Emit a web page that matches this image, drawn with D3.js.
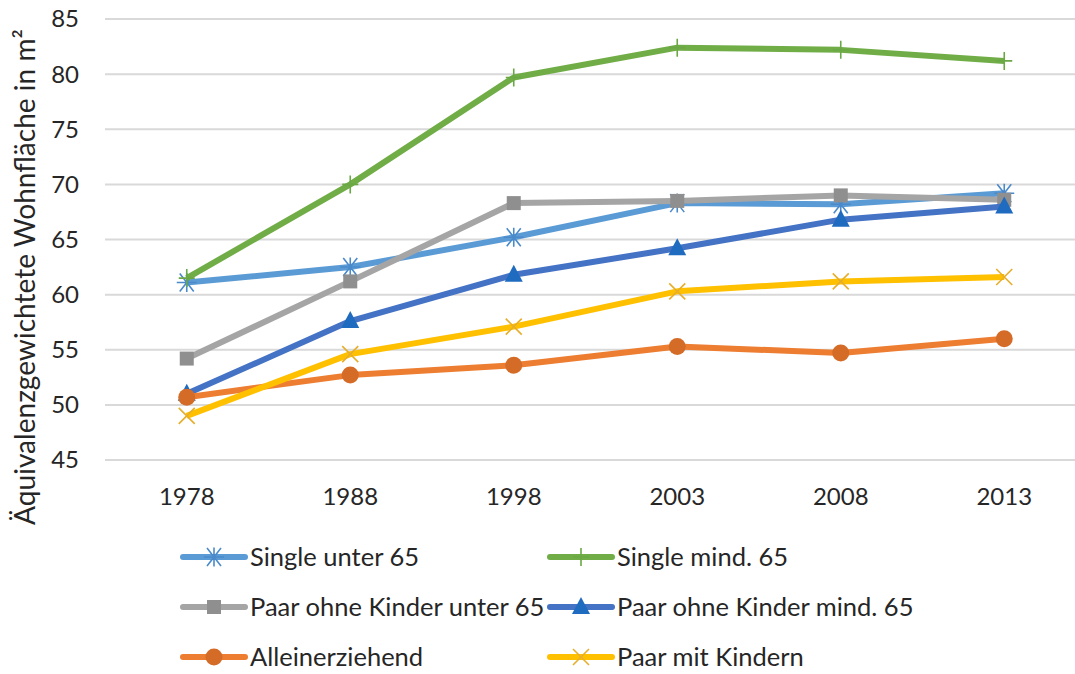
<!DOCTYPE html>
<html>
<head>
<meta charset="utf-8">
<script src="https://cdn.jsdelivr.net/npm/d3@7"></script>
<style>
  body { margin: 0; background: #fff; }
  svg text { font-family: Lato, "Open Sans", sans-serif; fill: #262626; }
</style>
</head>
<body>
<div id="chart"></div>
<script>
// Data
const years = ["1978", "1988", "1998", "2003", "2008", "2013"];
const yTicks = [45, 50, 55, 60, 65, 70, 75, 80, 85];

const singleUnter65 = [61.1, 62.5, 65.2, 68.3, 68.2, 69.2];
const singleMind65 = [61.5, 70.0, 79.7, 82.4, 82.2, 81.2];
const paarOhneKinderUnter65 = [54.2, 61.2, 68.3, 68.5, 69.0, 68.6];
const paarOhneKinderMind65 = [51.0, 57.6, 61.8, 64.2, 66.8, 68.0];
const alleinerziehend = [50.7, 52.7, 53.6, 55.3, 54.7, 56.0];
const paarMitKindern = [49.0, 54.6, 57.1, 60.3, 61.2, 61.6];

const series = [
  { name: "Single unter 65", values: singleUnter65, color: "#5B9BD5", mcolor: "#4A8ACB", marker: "star" },
  { name: "Single mind. 65", values: singleMind65, color: "#70AD47", mcolor: "#6AA845", marker: "plus" },
  { name: "Paar ohne Kinder unter 65", values: paarOhneKinderUnter65, color: "#A5A5A5", mcolor: "#8F8F8F", marker: "square" },
  { name: "Paar ohne Kinder mind. 65", values: paarOhneKinderMind65, color: "#4472C4", mcolor: "#1F6BBF", marker: "triangle" },
  { name: "Alleinerziehend", values: alleinerziehend, color: "#ED7D31", mcolor: "#D46B27", marker: "circle" },
  { name: "Paar mit Kindern", values: paarMitKindern, color: "#FFC000", mcolor: "#E6AE2A", marker: "x" }
];

const width = 1075, height = 674;
const svg = d3.select("#chart").append("svg")
  .attr("width", width)
  .attr("height", height);

const x = d3.scaleBand().domain(years).range([105, 1086]);
const y = d3.scaleLinear().domain([45, 85]).range([460, 19]);
const cx = d => x(d) + x.bandwidth() / 2;

// gridlines
svg.append("g")
  .selectAll("line")
  .data(yTicks)
  .join("line")
  .attr("x1", 105).attr("x2", 1086)
  .attr("y1", d => y(d)).attr("y2", d => y(d))
  .attr("stroke", "#D9D9D9")
  .attr("stroke-width", 2);

// y tick labels
svg.append("g")
  .selectAll("text")
  .data(yTicks)
  .join("text")
  .attr("x", 79)
  .attr("y", d => y(d))
  .attr("dy", "0.35em")
  .attr("text-anchor", "end")
  .attr("font-size", 24)
  .text(d => d);

// x tick labels
svg.append("g")
  .selectAll("text")
  .data(years)
  .join("text")
  .attr("x", d => cx(d))
  .attr("y", 505)
  .attr("text-anchor", "middle")
  .attr("font-size", 24)
  .text(d => d);

// y axis title, sized to the span it takes in the original
const title = svg.append("text")
  .attr("transform", "translate(35,277) rotate(-90)")
  .attr("text-anchor", "middle")
  .attr("font-size", 24)
  .text("Äquivalenzgewichtete Wohnfläche in m²");
const tw = title.node().getComputedTextLength();
title.attr("font-size", 24 * 496 / tw);

function drawMarker(g, type, color) {
  if (type === "star") {
    const r = 10;
    g.append("path")
      .attr("d", `M${-r},0H${r}M${-r * 0.7},${-r * 0.9}L${r * 0.7},${r * 0.9}M${-r * 0.7},${r * 0.9}L${r * 0.7},${-r * 0.9}M0,${-r * 0.95}V${r * 0.95}`)
      .attr("stroke", color).attr("stroke-width", 1.6).attr("fill", "none");
  } else if (type === "plus") {
    g.append("path")
      .attr("d", "M-8,0H8M0,-9V9")
      .attr("stroke", color).attr("stroke-width", 1.6).attr("fill", "none");
  } else if (type === "square") {
    g.append("rect").attr("x", -7).attr("y", -7).attr("width", 14).attr("height", 14)
      .attr("fill", color);
  } else if (type === "triangle") {
    g.append("path").attr("d", "M0,-10L9,7H-9Z").attr("fill", color);
  } else if (type === "circle") {
    g.append("circle").attr("r", 8.5).attr("fill", color);
  } else if (type === "x") {
    g.append("path")
      .attr("d", "M-8,-8L8,8M-8,8L8,-8")
      .attr("stroke", color).attr("stroke-width", 1.6).attr("fill", "none");
  }
}

const line = d3.line()
  .x((d, i) => cx(years[i]))
  .y(d => y(d));

series.forEach(s => {
  const g = svg.append("g");
  g.append("path")
    .datum(s.values)
    .attr("d", line)
    .attr("fill", "none")
    .attr("stroke", s.color)
    .attr("stroke-width", 6)
    .attr("stroke-linejoin", "round");
  s.values.forEach((v, i) => {
    const mg = g.append("g").attr("transform", `translate(${cx(years[i])},${y(v)})`);
    drawMarker(mg, s.marker, s.mcolor);
  });
});

// legend
const legX = [183, 550];
const legY = [557, 607, 657];
const legFont = 25.5;
series.forEach((s, i) => {
  const lx = legX[i % 2], ly = legY[Math.floor(i / 2)];
  const g = svg.append("g").attr("transform", `translate(${lx},${ly})`);
  g.append("line")
    .attr("x1", 0).attr("x2", 62)
    .attr("y1", 0).attr("y2", 0)
    .attr("stroke", s.color).attr("stroke-width", 6)
    .attr("stroke-linecap", "round");
  drawMarker(g.append("g").attr("transform", "translate(31,0)"), s.marker, s.mcolor);
  g.append("text")
    .attr("x", 67).attr("y", 0)
    .attr("dy", "0.35em")
    .attr("font-size", legFont)
    .text(s.name);
});
</script>
</body>
</html>
